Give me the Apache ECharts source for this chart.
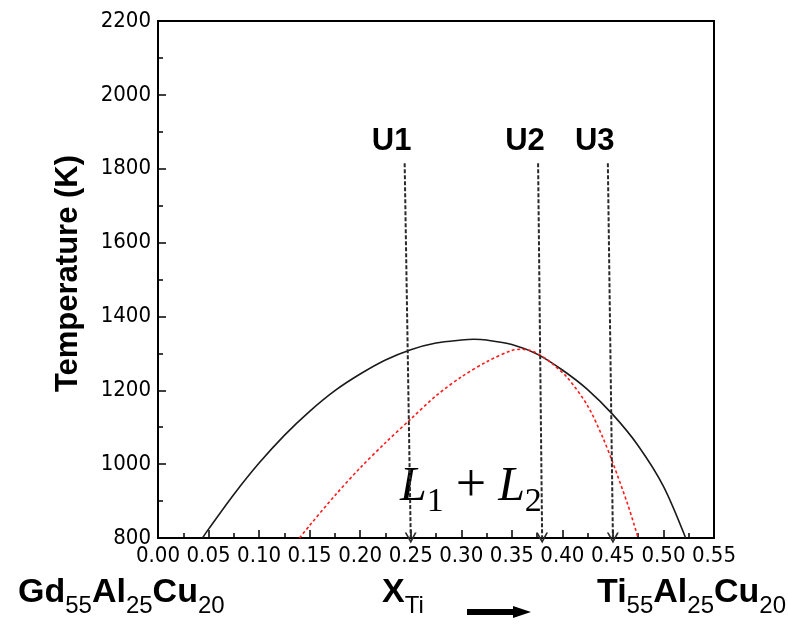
<!DOCTYPE html>
<html><head><meta charset="utf-8">
<script src="https://cdn.jsdelivr.net/npm/echarts@6/dist/echarts.min.js"></script>
<style>html,body{margin:0;padding:0;background:#fff}#c{width:788px;height:626px}</style>
</head><body><div id="c"></div>
<script>
// ---- data ----
const xTickLabels = ['0.00','0.05','0.10','0.15','0.20','0.25','0.30','0.35','0.40','0.45','0.50','0.55'];
const yTickLabels = ['800','1000','1200','1400','1600','1800','2000','2200'];
const blackX = [0.044,0.05,0.075,0.10,0.125,0.15,0.175,0.20,0.225,0.25,0.275,0.30,0.3125,0.325,0.35,0.375,0.40,0.425,0.45,0.475,0.50,0.522];
const blackT = [800,824,918,1003,1078,1143,1199,1244,1282,1310,1328,1336,1338,1336,1324,1298,1255,1202,1134,1050,940,800];
const redX = [0.140,0.15,0.175,0.20,0.225,0.25,0.275,0.30,0.325,0.35,0.36,0.37,0.38,0.39,0.405,0.425,0.44,0.45,0.465,0.475];
const redT = [800,834,915,990,1058,1122,1185,1236,1277,1308,1311,1306,1292,1272,1234,1158,1072,1003,888,800];
const arrowNames = ['U1','U2','U3'];
const arrowTopX = [0.244,0.376,0.445];
const arrowBottomX = [0.25,0.38,0.45];
const arrowTopT = 1815;
const arrowBottomT = 800;

const narrow = "'Liberation Sans Narrow','DejaVu Sans Condensed',sans-serif";
const sans = "'Liberation Sans',Arial,sans-serif";
const serif = "'Liberation Serif','Times New Roman',serif";

const chart = echarts.init(document.getElementById('c'), null, {renderer:'canvas'});

const chevron = 'path://M5,0 L10,9 L8.5,9 L5,2.8 L1.5,9 L0,9 Z';

const formulaRich = {
  m:{fontSize:34,fontWeight:'bold',fontFamily:sans,color:'#000',lineHeight:40,height:40,verticalAlign:'bottom'},
  s:{fontSize:24,fontFamily:sans,color:'#000',lineHeight:14,height:14,verticalAlign:'bottom'}
};

const option = {
  animation:false,
  backgroundColor:'#fff',
  grid:{left:158,top:21,width:556,height:517,show:true,borderColor:'#000',borderWidth:2,outerBoundsMode:'none'},
  xAxis:{
    type:'value',min:0,max:0.55,interval:0.05,
    axisLine:{show:true,onZero:false,lineStyle:{color:'#000',width:2}},
    axisTick:{show:true,inside:true,length:8,lineStyle:{color:'#000',width:1.5}},
    minorTick:{show:true,splitNumber:2,length:5,lineStyle:{color:'#000',width:1.5}},
    splitLine:{show:false},minorSplitLine:{show:false},
    axisLabel:{show:true,showMinLabel:true,showMaxLabel:true,hideOverlap:false,margin:7,
      fontFamily:narrow,fontSize:22,color:'#000',
      formatter:(v,i)=>xTickLabels[Math.round(v/0.05)]||v.toFixed(2)}
  },
  yAxis:{
    type:'value',min:800,max:2200,interval:200,
    name:'Temperature (K)',nameLocation:'middle',nameGap:74,nameRotate:90,
    nameTextStyle:{fontFamily:sans,fontWeight:'bold',fontSize:31,color:'#000',padding:[0,0,0,12]},
    axisLine:{show:true,onZero:false,lineStyle:{color:'#000',width:2}},
    axisTick:{show:true,inside:true,length:8,lineStyle:{color:'#000',width:1.5}},
    minorTick:{show:true,splitNumber:2,length:5,lineStyle:{color:'#000',width:1.5}},
    splitLine:{show:false},minorSplitLine:{show:false},
    axisLabel:{show:true,showMinLabel:true,showMaxLabel:true,margin:7,
      fontFamily:narrow,fontSize:22,color:'#000',
      formatter:(v)=>yTickLabels[Math.round((v-800)/200)]||String(v)}
  },
  series:[
    {
      type:'line',name:'black',data:blackX.map((x,i)=>[x,blackT[i]]),
      smooth:0.3,showSymbol:false,symbol:'none',clip:true,
      lineStyle:{color:'#1a1a1a',width:1.6},
      markLine:{
        silent:true,animation:false,
        symbol:['none',chevron],symbolSize:[12,11],
        lineStyle:{type:[4,2],color:'#2a2a2a',width:2},
        label:{show:true,position:'start',distance:6,formatter:'{b}',padding:[0,26,0,0],
          fontFamily:sans,fontWeight:'bold',fontSize:31,color:'#000'},
        data:arrowNames.map((n,i)=>[
          {name:n,coord:[arrowTopX[i],arrowTopT]},
          {coord:[arrowBottomX[i],arrowBottomT]}
        ])
      }
    },
    {
      type:'line',name:'red',data:redX.map((x,i)=>[x,redT[i]]),
      smooth:0.3,showSymbol:false,symbol:'none',clip:true,
      lineStyle:{color:'#ff1a1a',width:1.6,type:[3,2.5]}
    }
  ],
  graphic:[
    {type:'text',x:400,y:462,style:{
      text:'{L|L}{s|1}{g|  }{p|+}{g|  }{L|L}{s|2}',
      rich:{
        L:{fontSize:48,fontStyle:'italic',fontFamily:serif,color:'#000',lineHeight:50,height:50,verticalAlign:'bottom'},
        s:{fontSize:34,fontFamily:serif,color:'#000',lineHeight:20,height:20,verticalAlign:'bottom'},
        g:{fontSize:24,fontFamily:serif,color:'#000',lineHeight:50,height:50,verticalAlign:'bottom'},
        p:{fontSize:54,fontFamily:serif,color:'#000',lineHeight:50,height:50,verticalAlign:'bottom'}
      }}},
    {type:'text',x:18,y:573,style:{text:'{m|Gd}{s|55}{m|Al}{s|25}{m|Cu}{s|20}',rich:formulaRich}},
    {type:'text',x:382,y:573,style:{text:'{m|X}{s|Ti}',rich:formulaRich}},
    {type:'text',x:597,y:573,style:{text:'{m|Ti}{s|55}{m|Al}{s|25}{m|Cu}{s|20}',rich:formulaRich}},
    {type:'group',children:[
      {type:'rect',shape:{x:467,y:609,width:48,height:6},style:{fill:'#000'}},
      {type:'polygon',shape:{points:[[513,606],[531,612],[513,618]]},style:{fill:'#000'}}
    ]}
  ]
};
chart.setOption(option);
</script>
</body></html>
